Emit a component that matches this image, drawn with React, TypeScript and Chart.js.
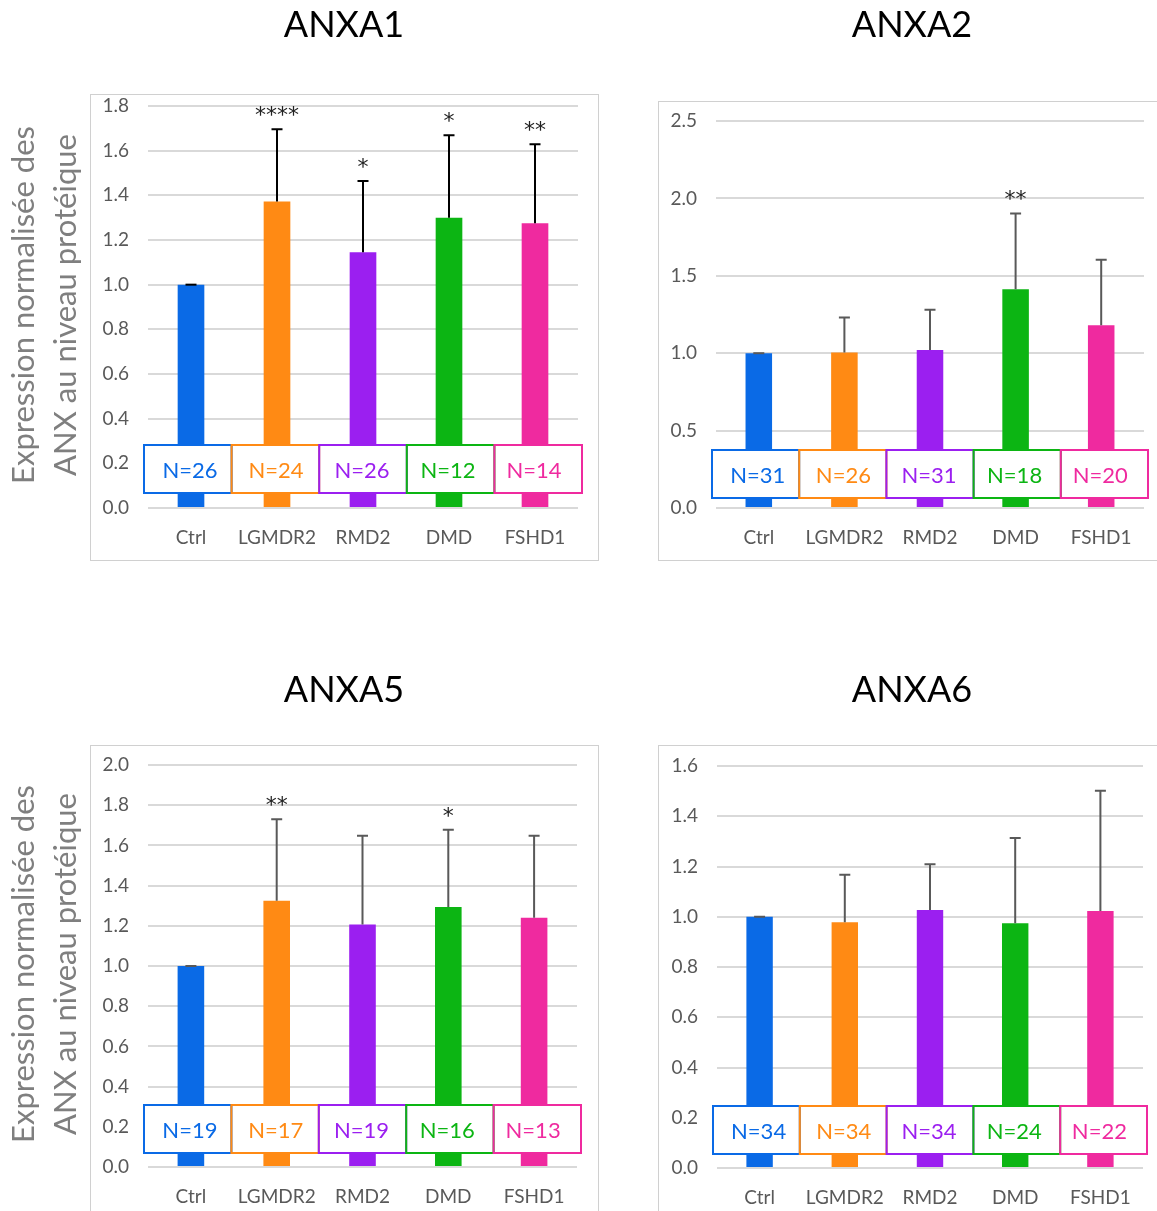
import React, { useEffect, useRef } from "react";
import { Chart, registerables } from "chart.js";

Chart.register(...registerables);

// ---------- data ----------
const categories = ["Ctrl", "LGMDR2", "RMD2", "DMD", "FSHD1"];
const barColors = ["#0A6AE6", "#FF8A14", "#9B1FF0", "#0CB513", "#EF2A9F"];

const anxa1Means = [1.0, 1.372, 1.145, 1.3, 1.275];
const anxa1Sd = [0, 0.324, 0.319, 0.369, 0.354];
const anxa1N = [26, 24, 26, 12, 14];
const anxa1Stars = ["", "****", "*", "*", "**"];
const anxa1YMax = 1.8;
const anxa1YStep = 0.2;

const anxa2Means = [1.0, 1.005, 1.02, 1.413, 1.18];
const anxa2Sd = [0, 0.225, 0.26, 0.49, 0.424];
const anxa2N = [31, 26, 31, 18, 20];
const anxa2Stars = ["", "", "", "**", ""];
const anxa2YMax = 2.5;
const anxa2YStep = 0.5;

const anxa5Means = [1.0, 1.325, 1.207, 1.293, 1.24];
const anxa5Sd = [0, 0.405, 0.441, 0.385, 0.408];
const anxa5N = [19, 17, 19, 16, 13];
const anxa5Stars = ["", "**", "", "*", ""];
const anxa5YMax = 2.0;
const anxa5YStep = 0.2;

const anxa6Means = [1.0, 0.978, 1.027, 0.974, 1.023];
const anxa6Sd = [0, 0.189, 0.182, 0.339, 0.478];
const anxa6N = [34, 34, 34, 24, 22];
const anxa6Stars = ["", "", "", "", ""];
const anxa6YMax = 1.6;
const anxa6YStep = 0.2;

const yAxisLabel = ["Expression normalisée des", "ANX au niveau protéique"];

const FONT = "Lato, 'Open Sans', sans-serif";
const STAR_FONT = "'DejaVu Sans', sans-serif";

type Rect = { l: number; t: number; r: number; b: number };
type Panel = {
  title: string;
  means: number[];
  sds: number[];
  ns: number[];
  stars: string[];
  yMax: number;
  yStep: number;
  canvas: { x: number; y: number; w: number; h: number };
  area: Rect;
  border: Rect;
  titleX: number;
  titleY: number;
  errColor: string;
  boxGap: number;
  yLabel: boolean;
};

const panels: Panel[] = [
  {
    title: "ANXA1", means: anxa1Means, sds: anxa1Sd, ns: anxa1N, stars: anxa1Stars,
    yMax: anxa1YMax, yStep: anxa1YStep,
    canvas: { x: 0, y: 0, w: 620, h: 600 },
    area: { l: 148, r: 578, t: 106, b: 508 },
    border: { l: 90.5, t: 94.5, r: 598.5, b: 560.5 },
    titleX: 344, titleY: 37, errColor: "#000000", boxGap: 15, yLabel: true,
  },
  {
    title: "ANXA2", means: anxa2Means, sds: anxa2Sd, ns: anxa2N, stars: anxa2Stars,
    yMax: anxa2YMax, yStep: anxa2YStep,
    canvas: { x: 620, y: 0, w: 537, h: 600 },
    area: { l: 716, r: 1144, t: 121, b: 508 },
    border: { l: 658.5, t: 101.5, r: 1165, b: 560.5 },
    titleX: 912, titleY: 37, errColor: "#595959", boxGap: 10, yLabel: false,
  },
  {
    title: "ANXA5", means: anxa5Means, sds: anxa5Sd, ns: anxa5N, stars: anxa5Stars,
    yMax: anxa5YMax, yStep: anxa5YStep,
    canvas: { x: 0, y: 620, w: 620, h: 640 },
    area: { l: 148, r: 577, t: 765, b: 1167 },
    border: { l: 90.5, t: 745.5, r: 598.5, b: 1250 },
    titleX: 344, titleY: 702, errColor: "#595959", boxGap: 14, yLabel: true,
  },
  {
    title: "ANXA6", means: anxa6Means, sds: anxa6Sd, ns: anxa6N, stars: anxa6Stars,
    yMax: anxa6YMax, yStep: anxa6YStep,
    canvas: { x: 620, y: 620, w: 537, h: 640 },
    area: { l: 717, r: 1143, t: 766, b: 1168 },
    border: { l: 658.5, t: 745.5, r: 1165, b: 1250 },
    titleX: 912, titleY: 702, errColor: "#595959", boxGap: 14, yLabel: false,
  },
];

function PanelChart({ p }: { p: Panel }) {
  const ref = useRef<HTMLCanvasElement>(null);

  useEffect(() => {
    const cv = ref.current;
    if (!cv) return;
    const ox = p.canvas.x;
    const oy = p.canvas.y;
    const Y_W = 60;
    const X_H = 50;
    const local = { l: p.area.l - ox, r: p.area.r - ox, t: p.area.t - oy, b: p.area.b - oy };
    const padding = {
      left: local.l - Y_W,
      right: p.canvas.w - local.r,
      top: local.t,
      bottom: p.canvas.h - local.b - X_H,
    };

    const deco = {
      id: "deco",
      beforeDraw(chart: any) {
        const ctx = chart.ctx;
        ctx.save();
        ctx.fillStyle = "#ffffff";
        ctx.fillRect(0, 0, chart.width, chart.height);
        ctx.strokeStyle = "#d0d0d0";
        ctx.lineWidth = 1;
        ctx.strokeRect(p.border.l - ox, p.border.t - oy, p.border.r - p.border.l, p.border.b - p.border.t);
        ctx.restore();
      },
      afterDatasetsDraw(chart: any) {
        const ctx = chart.ctx;
        const ys = chart.scales.y;
        const meta = chart.getDatasetMeta(0);
        const area = chart.chartArea;
        ctx.save();
        // error bars (upper SD only)
        ctx.strokeStyle = p.errColor;
        ctx.lineWidth = 2;
        const tops: number[] = [];
        meta.data.forEach((bar: any, i: number) => {
          const x = bar.x;
          const y0 = bar.y;
          const y1 = ys.getPixelForValue(p.means[i] + p.sds[i]);
          tops.push(y1);
          ctx.beginPath();
          ctx.moveTo(x, y0);
          ctx.lineTo(x, y1);
          ctx.moveTo(x - 5.5, y1);
          ctx.lineTo(x + 5.5, y1);
          ctx.stroke();
        });
        // significance stars
        ctx.fillStyle = "#222222";
        ctx.font = `22px ${STAR_FONT}`;
        ctx.textAlign = "center";
        ctx.textBaseline = "alphabetic";
        meta.data.forEach((bar: any, i: number) => {
          if (p.stars[i]) ctx.fillText(p.stars[i], bar.x, tops[i] - 7);
        });
        // N boxes
        const start = area.left - 4;
        const w = (area.right - area.left + 8) / categories.length;
        const bh = 48;
        const btop = area.bottom - p.boxGap - bh;
        ctx.lineWidth = 2;
        ctx.font = `22px ${FONT}`;
        meta.data.forEach((bar: any, i: number) => {
          const x0 = start + i * w;
          ctx.fillStyle = "#ffffff";
          ctx.fillRect(x0, btop, w, bh);
        });
        meta.data.forEach((bar: any, i: number) => {
          const x0 = start + i * w;
          ctx.strokeStyle = barColors[i];
          ctx.strokeRect(x0, btop, w, bh);
          ctx.fillStyle = barColors[i];
          ctx.fillText(`N=${p.ns[i]}`, bar.x - 1, btop + 33);
        });
        ctx.restore();
      },
      afterDraw(chart: any) {
        const ctx = chart.ctx;
        ctx.save();
        ctx.fillStyle = "#000000";
        ctx.font = `36px ${FONT}`;
        ctx.textAlign = "center";
        ctx.textBaseline = "alphabetic";
        ctx.fillText(p.title, p.titleX - ox, p.titleY - oy);
        if (p.yLabel) {
          const cy = (chart.chartArea.top + chart.chartArea.bottom) / 2 - 2;
          ctx.fillStyle = "#7f7f7f";
          ctx.font = `31px ${FONT}`;
          const xs = [34, 76];
          yAxisLabel.forEach((line, k) => {
            ctx.save();
            ctx.translate(xs[k] - ox, cy);
            ctx.rotate(-Math.PI / 2);
            ctx.fillText(line, 0, 0);
            ctx.restore();
          });
        }
        ctx.restore();
      },
    };

    const chart = new Chart(cv, {
      type: "bar",
      data: {
        labels: categories,
        datasets: [
          {
            data: p.means,
            backgroundColor: barColors,
            borderWidth: 0,
            barPercentage: 0.31,
            categoryPercentage: 1,
          },
        ],
      },
      options: {
        responsive: false,
        animation: false,
        devicePixelRatio: 1,
        layout: { padding },
        plugins: {
          legend: { display: false },
          tooltip: { enabled: false },
          title: { display: false },
        },
        scales: {
          x: {
            grid: { display: false },
            border: { display: false },
            ticks: {
              color: "#595959",
              font: { family: FONT, size: 19 },
              padding: 10,
              maxRotation: 0,
              autoSkip: false,
            },
            afterFit: (s: any) => {
              s.height = X_H;
            },
          },
          y: {
            min: 0,
            max: p.yMax,
            grid: { color: "#d9d9d9", lineWidth: 2, drawTicks: false },
            border: { display: false },
            ticks: {
              stepSize: p.yStep,
              color: "#595959",
              font: { family: FONT, size: 19 },
              padding: 19,
              callback: (v: any) => Number(v).toFixed(1),
            },
            afterFit: (s: any) => {
              s.width = Y_W;
            },
          },
        },
      },
      plugins: [deco],
    } as any);

    return () => chart.destroy();
  }, [p]);

  return (
    <canvas
      ref={ref}
      width={p.canvas.w}
      height={p.canvas.h}
      style={{
        position: "absolute",
        left: p.canvas.x,
        top: p.canvas.y,
        width: p.canvas.w,
        height: p.canvas.h,
      }}
    />
  );
}

export default function App() {
  return (
    <div
      style={{
        position: "absolute",
        left: 0,
        top: 0,
        width: 1157,
        height: 1211,
        background: "#ffffff",
        overflow: "hidden",
      }}
    >
      {panels.map((p) => (
        <PanelChart key={p.title} p={p} />
      ))}
    </div>
  );
}
